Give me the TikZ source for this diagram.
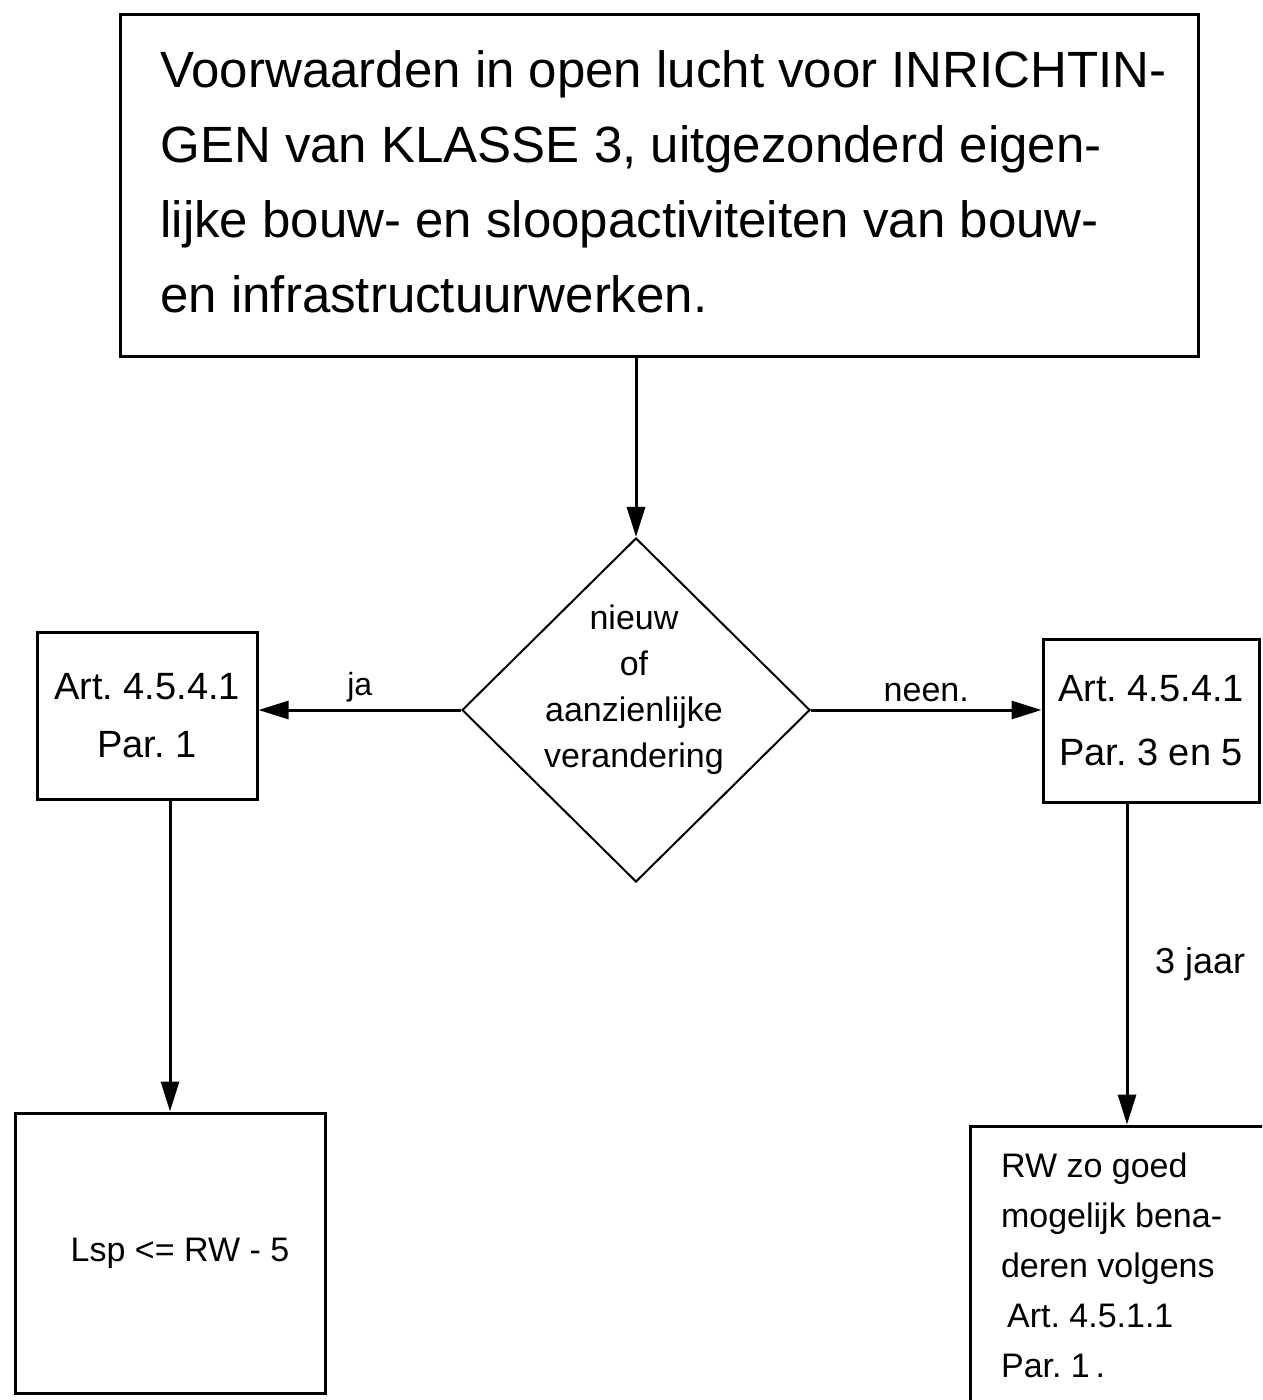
\documentclass[tikz,border=0pt]{standalone}
\usepackage{fontspec}
\setmainfont{Liberation Sans}
\usetikzlibrary{positioning, arrows.meta, shapes.geometric}
\tikzset{
    >={Triangle[length=15pt, width=9pt]}, % filled arrow heads
    box/.style={draw, line width=1.5pt, inner sep=0pt}, % the rectangular boxes
    decision/.style={draw, diamond, line width=1pt, inner sep=0pt}, % the question
    flow/.style={->, line width=1.5pt}, % connectors between the boxes
}

\begin{document}
\begin{tikzpicture}[x=0.5pt, y=-0.5pt]
\useasboundingbox (0,0) rectangle (1262,1400);
\clip (0,0) rectangle (1262,1400);
% title
\node[box, minimum width=539pt, minimum height=171pt] (klasse) at (659,186) {};
\node[anchor=west, align=left, inner sep=0pt, font=\fontsize{25.5}{37.5}\selectfont] (klassetekst) at (160,182)
      {Voorwaarden in open lucht voor INRICHTIN-\\GEN van KLASSE 3, uitgezonderd eigen-\\lijke bouw- en sloopactiviteiten van bouw-\\en infrastructuurwerken.};
% question
\node[decision, minimum width=174pt, minimum height=172pt] (vraag) at (636,710) {};
\node[align=center, font=\fontsize{17}{23}\selectfont] (vraagtekst) at (634,690)
      {nieuw\\of\\aanzienlijke\\verandering};
% branches
\node[box, minimum width=110pt, minimum height=83.5pt, align=center,
      font=\fontsize{19}{29}\selectfont] (artja) at (147,716) {Art.\ 4.5.4.1\\Par.\ 1};
\node[box, minimum width=108pt, minimum height=81.5pt, align=center,
      font=\fontsize{19}{32}\selectfont] (artneen) at (1151,721) {Art.\ 4.5.4.1\\Par.\ 3 en 5};
\node[box, minimum width=155pt, minimum height=140pt,
      font=\fontsize{17}{25}\selectfont] (lsp) at (170,1253) {\hspace{10pt}Lsp <= RW - 5};
\node[box, minimum width=165pt, minimum height=162pt] (rwbox) at (1135,1288) {};
\node[anchor=west, align=left, font=\fontsize{17}{25}\selectfont] (rwtekst) at (994,1265)
      {RW zo goed\\mogelijk bena-\\deren volgens\\\hspace{3pt}Art.\ 4.5.1.1\\Par.\ 1\,.};
% connectors
\draw[flow] (vraag.north |- klasse.south) -- (vraag.north);
\draw[flow] (vraag.west) -- (vraag.west -| artja.east)
      node[midway, above, font=\fontsize{16}{19}\selectfont] {ja};
\draw[flow] (vraag.east) -- (vraag.east -| artneen.west)
      node[midway, above, font=\fontsize{17}{20}\selectfont] {neen.};
\draw[flow] (lsp.north |- artja.south) -- (lsp.north);
\draw[flow] ([xshift=-12pt]artneen.south) -- ([xshift=-12pt]artneen.south |- rwbox.north)
      node[midway, right=10pt, font=\fontsize{18}{21}\selectfont] {3 jaar};
\end{tikzpicture}
\end{document}
